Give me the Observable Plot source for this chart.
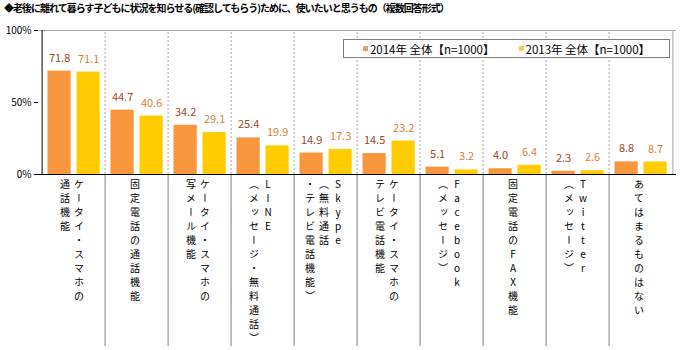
<!DOCTYPE html>
<html>
<head>
<meta charset="utf-8">
<script src="https://cdn.jsdelivr.net/npm/d3@7"></script>
<script src="https://cdn.jsdelivr.net/npm/@observablehq/plot@0.6"></script>
<style>
  html, body { margin: 0; padding: 0; background: #fff; }
  #wrap { position: relative; width: 681px; height: 350px; overflow: hidden; font-family: "Noto Sans CJK JP", sans-serif; }
  #title { height: 20px; box-sizing: border-box; padding: 2px 0 0 4px; font-weight: bold; font-size: 10px; line-height: 12px; color: #000; white-space: nowrap; letter-spacing: -1px; }
  #legend { position: absolute; left: 343px; top: 39px; width: 327px; height: 19px; box-sizing: border-box; border: 1px solid #7f7f7f; background: #fff; display: flex; align-items: center; justify-content: center; gap: 24px; font-size: 11.5px; color: #000; }
  #legend .item { display: flex; align-items: center; white-space: nowrap; }
  #legend .sw { display: inline-block; width: 5px; height: 5px; margin-right: 2px; }
  g[aria-description="vlabel"] text { writing-mode: vertical-rl; text-orientation: upright; letter-spacing: 4px; }
</style>
</head>
<body>
<div id="wrap">
  <div id="title">◆老後に離れて暮らす子どもに状況を知らせる(確認してもらう)ために、使いたいと思うもの（複数回答形式）</div>
  <div id="chart"></div>
  <div id="legend"></div>
</div>
<script>
const categories = [
  "ケータイ・スマホの通話機能",
  "固定電話の通話機能",
  "ケータイ・スマホの写メール機能",
  "LINE（メッセージ・無料通話）",
  "Skype（無料通話・テレビ電話機能）",
  "ケータイ・スマホのテレビ電話機能",
  "Facebook（メッセージ）",
  "固定電話のFAX機能",
  "Twitter（メッセージ）",
  "あてはまるものはない"
];
const labelColumns = [
  ["ケータイ・スマホの", "通話機能"],
  ["固定電話の通話機能"],
  ["ケータイ・スマホの", "写メール機能"],
  ["LINE", "（メッセージ・無料通話）"],
  ["Skype", "（無料通話", "・テレビ電話機能）"],
  ["ケータイ・スマホの", "テレビ電話機能"],
  ["Facebook", "（メッセージ）"],
  ["固定電話のFAX機能"],
  ["Twitter", "（メッセージ）"],
  ["あてはまるものはない"]
];
const series = ["2014年 全体【n=1000】", "2013年 全体【n=1000】"];
const v2014 = [71.8, 44.7, 34.2, 25.4, 14.9, 14.5, 5.1, 4.0, 2.3, 8.8];
const v2013 = [71.1, 40.6, 29.1, 19.9, 17.3, 23.2, 3.2, 6.4, 2.6, 8.7];
const yTicks = [0, 50, 100];

const colors = ["#F7963C", "#FFCC00"];
const labelColors = ["#A0482A", "#D4823A"];
const legendSwatch = ["#E0A070", "#F0D050"];

const W = 681, H = 330, mL = 38, mR = 5, mT = 10, mB = 176;
const bw = (W - mL - mR) / categories.length;
const plotH = H - mT - mB;

const rows = categories.map((c, i) => ({cat: c, v2014: v2014[i], v2013: v2013[i]}));

const colRows = [];
labelColumns.forEach((cols, i) => {
  const n = cols.length;
  cols.forEach((t, j) => {
    colRows.push({cat: categories[i], text: t, dx: ((n - 1) / 2 - j) * 14 - 2});
  });
});
const colMarks = Array.from(d3.group(colRows, d => d.dx), ([dx, rs]) =>
  Plot.text(rs, {x: "cat", text: "text", frameAnchor: "bottom", dx: dx, dy: 5,
    textAnchor: "start", fontSize: 10, fill: "#000", ariaDescription: "vlabel"})
);

const chart = Plot.plot({
  width: W, height: H,
  marginLeft: mL, marginRight: mR, marginTop: mT, marginBottom: mB,
  style: {fontFamily: "'Noto Sans CJK JP', sans-serif", fontSize: "10px", background: "#fff"},
  x: {domain: categories, padding: 0, axis: null},
  y: {domain: [0, 100], axis: null},
  marks: [
    Plot.ruleY([100], {stroke: "#A6A6A6"}),
    Plot.ruleX(categories.slice(1), {x: d => d, dx: -bw / 2, y1: 0, y2: 100, stroke: "#A6A6A6", strokeDasharray: "2,2"}),
    Plot.ruleX(categories.slice(-1), {x: d => d, dx: bw / 2, y1: 0, y2: 100, stroke: "#A6A6A6"}),
    Plot.barY(rows, {x: "cat", y: "v2014", fill: colors[0], insetLeft: 5.5, insetRight: bw - 29.5}),
    Plot.barY(rows, {x: "cat", y: "v2013", fill: colors[1], insetLeft: 34.5, insetRight: bw - 58.5}),
    Plot.text(rows, {x: "cat", y: "v2014", text: d => d.v2014.toFixed(1), dx: 17.5 - bw / 2, dy: -13, fill: labelColors[0], fontSize: 11}),
    Plot.text(rows, {x: "cat", y: "v2013", text: d => d.v2013.toFixed(1), dx: 46.5 - bw / 2, dy: -13, fill: labelColors[1], fontSize: 11}),
    Plot.ruleX(categories.slice(1), {x: d => d, dx: -bw / 2, insetTop: plotH, insetBottom: -(mB - 4), stroke: "#7F7F7F"}),
    Plot.ruleX(categories.slice(0, 1), {x: d => d, dx: -bw / 2, y1: 0, y2: 100, stroke: "#000"}),
    Plot.ruleY([0], {stroke: "#000"}),
    Plot.axisY({ticks: yTicks, tickFormat: d => d + "%", tickSize: 4, tickPadding: 3, fontSize: 10, label: null}),
    ...colMarks
  ]
});
document.getElementById("chart").appendChild(chart);

const legend = document.getElementById("legend");
series.forEach((s, i) => {
  const item = document.createElement("span");
  item.className = "item";
  const sw = document.createElement("span");
  sw.className = "sw";
  sw.style.background = legendSwatch[i];
  item.appendChild(sw);
  item.appendChild(document.createTextNode(s.replace(" ", "  ")));
  legend.appendChild(item);
});
</script>
</body>
</html>
